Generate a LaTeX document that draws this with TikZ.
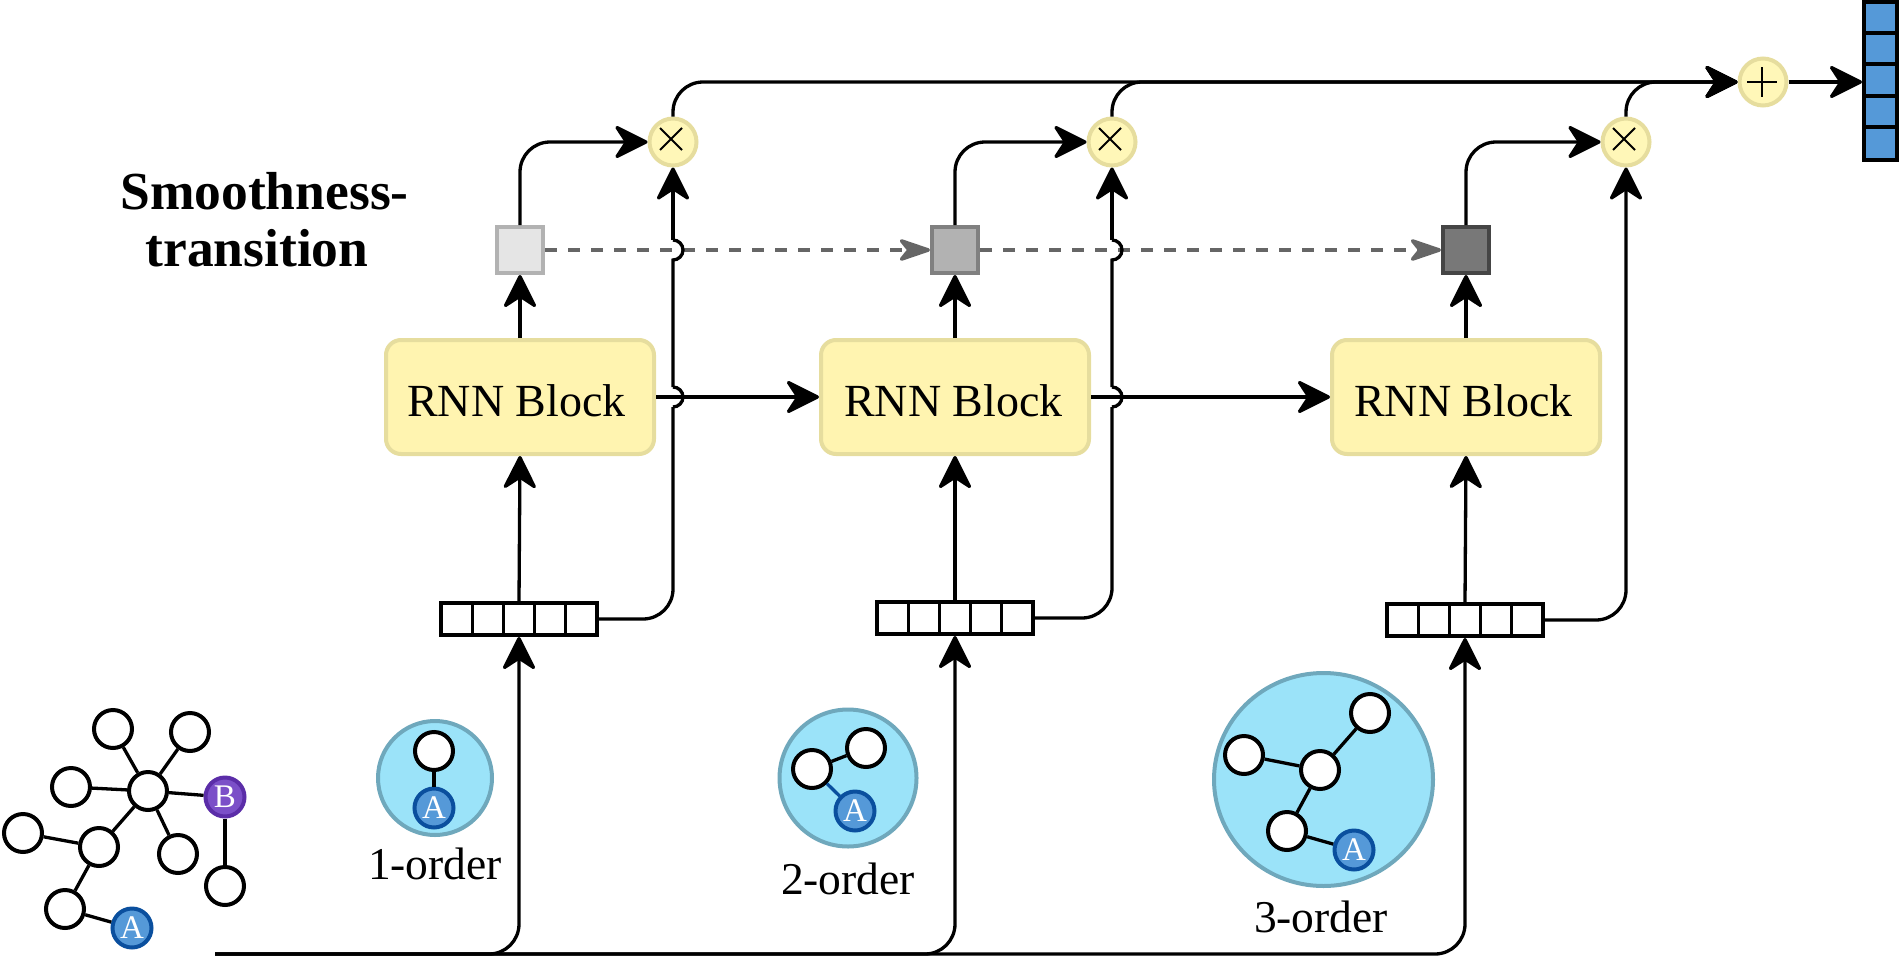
\documentclass[tikz,border=0pt]{standalone}
\usepackage{fontspec}
\setmainfont{Liberation Serif}
\usetikzlibrary{arrows.meta,calc,shapes.geometric}
\definecolor{yfill}{HTML}{FFF4B0}
\definecolor{ofill}{HTML}{FFF7B8}
\definecolor{ydraw}{HTML}{E6DD9E}
\definecolor{bubfill}{HTML}{9BE3F9}
\definecolor{bubdraw}{HTML}{6FA8BC}
\definecolor{afill}{HTML}{5599D8}
\definecolor{adraw}{HTML}{0A4F9E}
\definecolor{bfill}{HTML}{7B4FC8}
\definecolor{bdraw}{HTML}{5B2DA8}
\definecolor{dashc}{HTML}{666666}
\tikzset{
  conn/.style={draw=black,line width=3.3pt,-{Stealth[length=37pt,width=37pt,inset=12pt,round=false]}},
  plainconn/.style={draw=black,line width=3.3pt},
  dashconn/.style={draw=dashc,line width=3.5pt,dash pattern=on 11.5pt off 11.5pt,-{Stealth[length=37pt,width=25pt,inset=10pt,round=false,sep=0pt]}},
  rnn/.style={rectangle,rounded corners=15pt,draw=ydraw,fill=yfill,line width=4pt,minimum width=268pt,minimum height=114pt,inner sep=0pt,text height=38pt,text depth=0pt,font=\fontsize{46}{50}\selectfont},
  opnode/.style={circle,draw=ydraw,fill=ofill,line width=4pt,minimum size=47pt,inner sep=0pt},
  timesop/.style={opnode,path picture={\draw[draw=black,line width=1.9pt] ($(path picture bounding box.center)+(-13,-14)$) -- ++(22,22) ($(path picture bounding box.center)+(9,-14)$) -- ++(-22,22);}},
  plusop/.style={opnode,path picture={\draw[draw=black,line width=1.9pt] ($(path picture bounding box.center)+(-16,0)$) -- ++(30,0) ($(path picture bounding box.center)+(-1,-15)$) -- ++(0,30);}},
  gate/.style={rectangle,line width=4pt,minimum size=46pt,inner sep=0pt},
  smallvec/.style={rectangle,draw=black,fill=white,line width=4pt,minimum width=156pt,minimum height=32pt,inner sep=0pt,
    path picture={\foreach \k in {-47,-16,15,46}{\draw[draw=black,line width=3pt] ($(path picture bounding box.center)+(\k,-20)$) -- ++(0,40);}}},
  cell/.style={rectangle,draw=black,fill=afill,line width=4pt,minimum width=33pt,minimum height=33pt,inner sep=0pt},
  gn/.style={circle,draw=black,fill=white,line width=4pt,minimum size=38pt,inner sep=0pt},
  gedge/.style={draw=black,line width=3.3pt},
  na/.style={circle,draw=adraw,fill=afill,line width=4pt,minimum size=39pt,inner sep=0pt,text=white,font=\fontsize{33}{33}\selectfont},
  nb/.style={circle,draw=bdraw,fill=bfill,line width=4pt,minimum size=39pt,inner sep=0pt,text=white,font=\fontsize{33}{33}\selectfont},
  bubble/.style={ellipse,draw=bubdraw,fill=bubfill,line width=4pt,inner sep=0pt},
  lab/.style={inner sep=0pt,font=\fontsize{45.5}{48}\selectfont},
}
\begin{document}
\begin{tikzpicture}[x=1pt,y=-1pt]
\useasboundingbox (0,0) rectangle (1902,966);
% coordinate helpers
\coordinate (busstart) at (215,954);
% bubbles
\node[bubble,minimum width=114pt,minimum height=114pt] (bub1) at (435,778) {};
\node[bubble,minimum width=137pt,minimum height=137pt] (bub2) at (848,778) {};
\node[bubble,minimum width=219pt,minimum height=213pt] (bub3) at (1323.5,779.5) {};
% main blocks
\node[rnn] (rnn1) at (520,397) {RNN Block\hspace*{7pt}};
\node[rnn] (rnn2) at (955,397) {RNN Block\hspace*{3pt}};
\node[rnn] (rnn3) at (1466,397) {RNN Block\hspace*{5pt}};
\node[gate,draw=black!30,fill=black!10] (sq1) at (520,250) {};
\node[gate,draw=black!50,fill=black!30] (sq2) at (955,250) {};
\node[gate,draw=black!73,fill=black!53] (sq3) at (1466,250) {};
\node[timesop] (c1) at (673,142) {};
\node[timesop] (c2) at (1112,142) {};
\node[timesop] (c3) at (1626,142) {};
\node[plusop] (plus) at (1763,82) {};
\node[smallvec] (v1) at (519,619) {};
\node[smallvec] (v2) at (955,618) {};
\node[smallvec] (v3) at (1465,620) {};
% output vector
\node[cell] (o1) at (1880.5,19) {};
\node[cell] (o2) at (1880.5,50) {};
\node[cell] (o3) at (1880.5,81) {};
\node[cell] (o4) at (1880.5,112) {};
\node[cell] (o5) at (1880.5,143) {};
% text
\node[inner sep=0pt,align=center,font=\fontsize{53.5}{57}\selectfont\bfseries] (smooth) at (264.5,220) {Smoothness-\\transition\hspace*{15pt}};
\node[lab] (l1) at (435,864) {1-order};
\node[lab] (l2) at (848,879) {2-order};
\node[lab] (l3) at (1321,917) {3-order};
% left graph
\node[gn] (n1) at (113,729) {};
\node[gn] (n2) at (190,732) {};
\node[gn] (n3) at (71,787) {};
\node[gn] (hub) at (148,791) {};
\node[nb] (B) at (225,797) {B};
\node[gn] (n4) at (23,833) {};
\node[gn] (n5) at (99,847) {};
\node[gn] (n6) at (178,854) {};
\node[gn] (n7) at (225,886) {};
\node[gn] (n8) at (65,909) {};
\node[na] (A) at (132,928) {A};
\draw[gedge] (hub) -- (n1);
\draw[gedge] (hub) -- (n2);
\draw[gedge] (hub) -- (n3);
\draw[gedge] (hub) -- (B);
\draw[gedge] (hub) -- (n5);
\draw[gedge] (hub) -- (n6);
\draw[gedge] (B) -- (n7);
\draw[gedge] (n5) -- (n4);
\draw[gedge] (n5) -- (n8);
\draw[gedge] (n8) -- (A);
% bubble 1
\node[gn] (p1) at (434,751) {};
\node[na] (pa) at (434,808) {A};
\draw[gedge] (p1) -- (pa);
% bubble 2
\node[gn] (q1) at (812,769) {};
\node[gn] (q2) at (866,748) {};
\node[na] (qa) at (855,811) {A};
\draw[gedge] (q1) -- (q2);
\draw[gedge,draw=adraw] (q1) -- (qa);
% bubble 3
\node[gn] (r1) at (1244,755) {};
\node[gn] (r2) at (1320,770) {};
\node[gn] (r3) at (1370,713) {};
\node[gn] (r4) at (1287,831) {};
\node[na] (ra) at (1354,850) {A};
\draw[gedge] (r2) -- (r1);
\draw[gedge] (r2) -- (r3);
\draw[gedge] (r2) -- (r4);
\draw[gedge] (r4) -- (ra);
% bus
\draw[conn,rounded corners=30pt] (busstart) -- (v1.south |- busstart) -- (v1.south);
\draw[conn,rounded corners=30pt] (busstart) -- (v2.south |- busstart) -- (v2.south);
\draw[conn,rounded corners=30pt] (busstart) -- (v3.south |- busstart) -- (v3.south);
% vector to RNN
\draw[conn] (v1.north) -- (rnn1.south);
\draw[conn] (v2.north) -- (rnn2.south);
\draw[conn] (v3.north) -- (rnn3.south);
% RNN to gate
\draw[conn] (rnn1.north) -- (sq1.south);
\draw[conn] (rnn2.north) -- (sq2.south);
\draw[conn] (rnn3.north) -- (sq3.south);
% gate to multiply
\draw[conn,rounded corners=30pt] (sq1.north) -- (sq1.north |- c1.west) -- (c1.west);
\draw[conn,rounded corners=30pt] (sq2.north) -- (sq2.north |- c2.west) -- (c2.west);
\draw[conn,rounded corners=30pt] (sq3.north) -- (sq3.north |- c3.west) -- (c3.west);
% RNN to RNN and dashed gate chain
\draw[conn] (rnn1.east) -- (rnn2.west);
\draw[conn] (rnn2.east) -- (rnn3.west);
\draw[dashconn] (sq1.east) -- (sq2.west);
\draw[dashconn] (sq2.east) -- (sq3.west);
% vector to multiply, jumping the two horizontals
\foreach \v/\c/\r/\s in {v1/c1/rnn1/sq1,v2/c2/rnn2/sq2}{
  \draw[plainconn,rounded corners=30pt] (\v.east) -- (\c.south |- \v.east) -- ($(\c.south |- \r.east)+(0,10)$);
  \draw[plainconn] ($(\c.south |- \r.east)+(0,10)$) arc[start angle=-90,end angle=90,radius=10pt];
  \draw[plainconn] ($(\c.south |- \r.east)+(0,-10)$) -- ($(\c.south |- \s.east)+(0,10)$) arc[start angle=-90,end angle=90,radius=10pt];
  \draw[conn] ($(\c.south |- \s.east)+(0,-10)$) -- (\c.south);
}
\draw[conn,rounded corners=30pt] (v3.east) -- (c3.south |- v3.east) -- (c3.south);
% multiply to sum
\draw[conn,rounded corners=30pt] (c1.north) -- (c1.north |- plus.west) -- (plus.west);
\draw[conn,rounded corners=30pt] (c2.north) -- (c2.north |- plus.west) -- (plus.west);
\draw[conn,rounded corners=30pt] (c3.north) -- (c3.north |- plus.west) -- (plus.west);
\draw[conn] (plus.east) -- (plus.east -| o3.west);
\end{tikzpicture}
\end{document}
